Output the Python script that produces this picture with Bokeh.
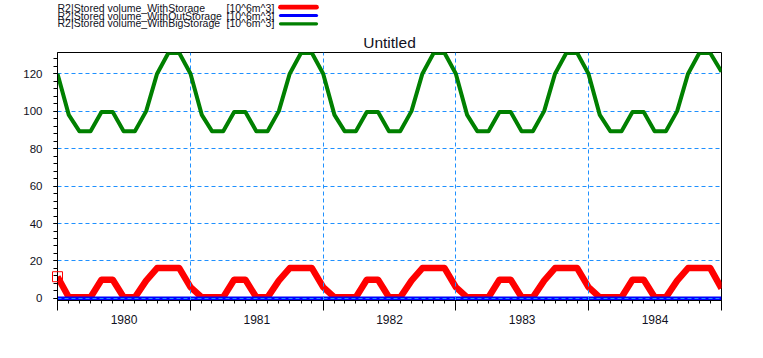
import pandas as pd
from bokeh.plotting import figure
from bokeh.layouts import column
from bokeh.core.properties import value
from bokeh.models import Range1d, FixedTicker, DatetimeAxis, ColumnDataSource
from bokeh.embed import file_html
from bokeh.resources import INLINE

# ---------------- data (monthly, Jan 1980 .. Jan 1985) ----------------
months = pd.date_range("1980-01-01", "1985-01-01", freq="MS")

with_storage = [
    11.6, 0.6, 0.6, 0.6, 10.0, 10.0, 0.6, 0.6, 9.5, 16.2, 16.2, 16.2,
    6.0, 0.6, 0.6, 0.6, 10.0, 10.0, 0.6, 0.6, 9.5, 16.2, 16.2, 16.2,
    6.0, 0.6, 0.6, 0.6, 10.0, 10.0, 0.6, 0.6, 9.5, 16.2, 16.2, 16.2,
    6.0, 0.6, 0.6, 0.6, 10.0, 10.0, 0.6, 0.6, 9.5, 16.2, 16.2, 16.2,
    6.0, 0.6, 0.6, 0.6, 10.0, 10.0, 0.6, 0.6, 9.5, 16.2, 16.2, 16.2,
    5.4,
]
without_storage = [
    0, 0, 0, 0, 0, 0, 0, 0, 0, 0, 0, 0,
    0, 0, 0, 0, 0, 0, 0, 0, 0, 0, 0, 0,
    0, 0, 0, 0, 0, 0, 0, 0, 0, 0, 0, 0,
    0, 0, 0, 0, 0, 0, 0, 0, 0, 0, 0, 0,
    0, 0, 0, 0, 0, 0, 0, 0, 0, 0, 0, 0,
    0,
]
big_storage = [
    120, 98, 89.3, 89.3, 99.5, 99.5, 89.3, 89.3, 100, 120, 131, 131,
    120, 98, 89.3, 89.3, 99.5, 99.5, 89.3, 89.3, 100, 120, 131, 131,
    120, 98, 89.3, 89.3, 99.5, 99.5, 89.3, 89.3, 100, 120, 131, 131,
    120, 98, 89.3, 89.3, 99.5, 99.5, 89.3, 89.3, 100, 120, 131, 131,
    120, 98, 89.3, 89.3, 99.5, 99.5, 89.3, 89.3, 100, 120, 131, 131,
    121,
]

years = [1980, 1981, 1982, 1983, 1984, 1985]
year_labels = ["1980", "1981", "1982", "1983", "1984"]
y_ticks = [0, 20, 40, 60, 80, 100, 120]
y_minor_step = 4
series_names = [
    "R2|Stored volume_WithStorage",
    "R2|Stored volume_WithOutStorage",
    "R2|Stored volume_WithBigStorage",
]
unit_label = "[10^6m^3]"
series_colors = ["#FF0000", "#0000FF", "#008000"]
title_text = "Untitled"


def ms(ts):
    return int(pd.Timestamp(ts).value // 10**6)


month_ms = [ms(t) for t in months]
bounds = [ms(f"{y}-01-01") for y in years]
mids = [(a + b) // 2 for a, b in zip(bounds[:-1], bounds[1:])]

src = ColumnDataSource(dict(x=month_ms, red=with_storage, blue=without_storage,
                            green=big_storage))
first = ColumnDataSource(dict(x=month_ms[:1], y=with_storage[:1]))

FONT = "Liberation Sans"
TXT = "#111122"
FW, FH = 664, 248
LEFT, RIGHT = 57, 35
LEG_H = 29

# ---------------- legend strip (text left, line sample right) ----------------
# pixel-coordinate strip whose frame lines up with the chart frame
leg = figure(frame_width=FW, frame_height=LEG_H,
             min_border_left=LEFT, min_border_right=RIGHT,
             min_border_top=0, min_border_bottom=0,
             x_range=Range1d(LEFT, LEFT + FW), y_range=Range1d(LEG_H, 0),
             x_axis_location=None, y_axis_location=None, title=None,
             output_backend="svg", toolbar_location=None)
leg.grid.visible = False
leg.outline_line_color = None
leg.background_fill_color = "white"
leg.border_fill_color = "white"

leg_src = ColumnDataSource(dict(
    name=series_names,
    unit=[unit_label] * len(series_names),
    color=series_colors,
    tx=[LEFT] * 3, ux=[226] * 3, ty=[7.2, 15.2, 22.9],
    sx0=[280] * 3, sx1=[316] * 3, sy=[6.7, 15, 23.3], lw=[4.7, 3.2, 3.2],
))
leg.text("tx", "ty", text="name", source=leg_src, text_baseline="middle",
         text_font=value(FONT), text_font_size=value("10.5px"), text_color=TXT)
leg.text("ux", "ty", text="unit", source=leg_src, text_baseline="middle",
         text_font=value(FONT), text_font_size=value("10.5px"), text_color=TXT)
leg.segment("sx0", "sy", "sx1", "sy", source=leg_src, line_color="color",
            line_width="lw", line_cap="round")

# ---------------- main chart ----------------
p = figure(frame_width=FW, frame_height=FH,
           min_border_left=LEFT, min_border_right=RIGHT, min_border_top=52 - LEG_H,
           min_border_bottom=46,
           x_axis_type="datetime",
           x_range=Range1d(month_ms[0], month_ms[-1]),
           y_range=Range1d(-1.1, 131.3),
           output_backend="svg", toolbar_location=None, title=title_text)

p.background_fill_color = "white"
p.border_fill_color = "white"
p.outline_line_color = "black"
p.outline_line_width = 1

p.title.align = "center"
p.title.text_font = FONT
p.title.text_font_size = "15.5px"
p.title.text_font_style = "normal"
p.title.text_color = TXT
p.title.standoff = 4

# ---- x axis: boundary ticks + monthly minor ticks ----
ax = p.xaxis[0]
ax.ticker = FixedTicker(ticks=bounds, minor_ticks=month_ms)
ax.major_label_overrides = {b: "" for b in bounds}
ax.major_tick_out = 10
ax.major_tick_in = 0
ax.minor_tick_out = 3
ax.minor_tick_in = 0
ax.major_label_standoff = 0
ax.axis_line_color = "black"
ax.major_tick_line_color = "black"
ax.minor_tick_line_color = "black"

ax2 = DatetimeAxis(ticker=FixedTicker(ticks=mids, minor_ticks=[]),
                   major_label_overrides=dict(zip(mids, year_labels)),
                   axis_line_color=None, major_tick_line_color=None,
                   minor_tick_line_color=None, major_tick_out=0, major_tick_in=0,
                   minor_tick_out=0, minor_tick_in=0, major_label_standoff=4,
                   major_label_text_font=FONT, major_label_text_font_size="12px",
                   major_label_text_color=TXT)
p.add_layout(ax2, "below")

# ---- y axis ----
ay = p.yaxis[0]
ay.ticker = FixedTicker(ticks=y_ticks,
                        minor_ticks=list(range(0, y_ticks[-1] + 12, y_minor_step)))
ay.major_tick_out = 4
ay.major_tick_in = 0
ay.minor_tick_out = 4
ay.minor_tick_in = 0
ay.major_label_standoff = 11
ay.major_label_text_font = FONT
ay.major_label_text_font_size = "11.5px"
ay.major_label_text_color = TXT
ay.axis_line_color = "black"

# ---- grid ----
p.xgrid.ticker = FixedTicker(ticks=bounds[1:-1])
p.ygrid.ticker = FixedTicker(ticks=y_ticks)
for g in (p.xgrid[0], p.ygrid[0]):
    g.grid_line_color = "#1E90FF"
    g.grid_line_dash = "4 3"
    g.grid_line_width = 1

# ---- series ----
p.line("x", "red", source=src, line_color=series_colors[0], line_width=6.5,
       line_join="round", level="image")
p.line("x", "blue", source=src, line_color=series_colors[1], line_width=4,
       level="image")
p.line("x", "green", source=src, line_color=series_colors[2], line_width=4,
       line_join="round")
p.scatter("x", "y", source=first, marker="square", size=10, fill_color=None,
          line_color="#FF0000", line_width=1, level="overlay")

layout = column(leg, p, spacing=0)
open("out.html", "w").write(file_html(layout, INLINE))
